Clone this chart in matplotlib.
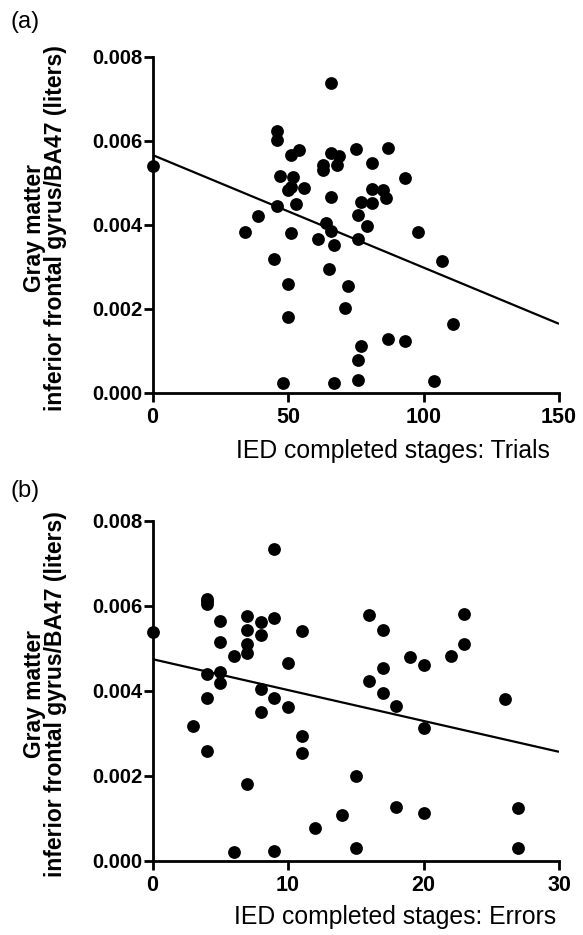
import matplotlib
matplotlib.use("Agg")
import matplotlib.pyplot as plt
import numpy as np

# ---------------- data ----------------
trials_a = [0, 46, 46, 51, 54, 47, 52, 50, 51, 56, 46, 53, 63, 63, 66, 69, 66, 75, 87, 68,
            81, 93, 66, 81, 85, 86, 77, 81, 39, 34, 51, 64, 66, 61, 45, 65, 50, 50, 48, 76,
            79, 67, 76, 98, 107, 72, 71, 111, 87, 93, 77, 76, 67, 76, 104]
gm_a = [0.00540, 0.00622, 0.00602, 0.00566, 0.00578, 0.00516, 0.00513, 0.00483, 0.00490, 0.00487,
        0.00445, 0.00449, 0.00542, 0.00530, 0.00571, 0.00564, 0.00737, 0.00580, 0.00582, 0.00542,
        0.00546, 0.00510, 0.00467, 0.00484, 0.00483, 0.00463, 0.00453, 0.00451, 0.00421, 0.00383,
        0.00381, 0.00405, 0.00386, 0.00366, 0.00318, 0.00294, 0.00259, 0.00181, 0.00022, 0.00423,
        0.00397, 0.00352, 0.00365, 0.00382, 0.00314, 0.00255, 0.00201, 0.00164, 0.00127, 0.00124,
        0.00112, 0.00078, 0.00024, 0.00030, 0.00029]

errors_b = [0, 4, 4, 4, 5, 5, 6, 7, 7, 7, 7, 8, 8, 9, 9, 11, 10, 5, 16, 17, 23, 23, 22, 19, 20, 17,
            4, 5, 4, 8, 9, 8, 10, 3, 4, 11, 11, 7, 12, 6, 9, 16, 17, 18, 26, 20, 15, 18, 20, 27,
            14, 15, 27]
gm_b = [0.00539, 0.00616, 0.00610, 0.00603, 0.00565, 0.00515, 0.00482, 0.00576, 0.00543, 0.00510,
        0.00488, 0.00562, 0.00531, 0.00733, 0.00570, 0.00541, 0.00464, 0.00444, 0.00578, 0.00543,
        0.00580, 0.00509, 0.00482, 0.00480, 0.00460, 0.00453, 0.00439, 0.00417, 0.00382, 0.00403,
        0.00382, 0.00349, 0.00362, 0.00317, 0.00258, 0.00293, 0.00254, 0.00180, 0.00076, 0.00019,
        0.00023, 0.00423, 0.00395, 0.00364, 0.00380, 0.00311, 0.00199, 0.00127, 0.00113, 0.00123,
        0.00107, 0.00029, 0.00029]

# regression lines (intercept, slope)
fit_a = (0.00566, -0.0000268)
fit_b = (0.00474, -0.0000727)

xticks_a = [0, 50, 100, 150]
xticks_b = [0, 10, 20, 30]
yticks = [0.000, 0.002, 0.004, 0.006, 0.008]
ytick_labels = ["0.000", "0.002", "0.004", "0.006", "0.008"]

xlabel_a = "IED completed stages: Trials"
xlabel_b = "IED completed stages: Errors"
ylabel = "Gray matter\ninferior frontal gyrus/BA47 (liters)"

# ---------------- figure ----------------
W, H = 583, 935
fig = plt.figure(figsize=(W / 100, H / 100), dpi=100)
plt.rcParams['font.family'] = ['Liberation Sans', 'DejaVu Sans']

def px_axes(left, right, top, bottom):
    return fig.add_axes([left / W, 1 - bottom / H, (right - left) / W, (bottom - top) / H])

def style(ax, xmax, xticks):
    ax.set_xlim(0, xmax)
    ax.set_ylim(0, 0.008)
    ax.set_xticks(xticks)
    ax.set_xticklabels([str(t) for t in xticks], fontsize=15.5, fontweight='bold')
    ax.set_yticks(yticks)
    ax.set_yticklabels(ytick_labels, fontsize=14.5, fontweight='bold')
    for s in ['top', 'right']:
        ax.spines[s].set_visible(False)
    for s in ['left', 'bottom']:
        ax.spines[s].set_linewidth(2.0)
    ax.tick_params(axis='both', direction='out', length=6.5, width=2.0)
    ax.tick_params(axis='x', pad=4)
    ax.tick_params(axis='y', pad=0.5)
    ax.patch.set_visible(False)

def draw(ax, x, y, fit, xmax):
    ax.scatter(x, y, s=85, color='black', marker='o', linewidths=0, clip_on=False, zorder=3)
    xs = np.array([0, xmax])
    ax.plot(xs, fit[0] + fit[1] * xs, color='black', lw=1.6, solid_capstyle='butt', zorder=2)

ax_a = px_axes(152.5, 559, 56.7, 392.7)
style(ax_a, 150, xticks_a)
draw(ax_a, trials_a, gm_a, fit_a, 150)

ax_b = px_axes(152.5, 559, 520.7, 860.5)
style(ax_b, 30, xticks_b)
draw(ax_b, errors_b, gm_b, fit_b, 30)

# labels
fig.text(45 / W, 1 - 228 / H, ylabel, rotation=90, ha='center', va='center',
         fontsize=16.5, fontweight='bold', multialignment='center', linespacing=0.85)
fig.text(45 / W, 1 - 694 / H, ylabel, rotation=90, ha='center', va='center',
         fontsize=16.5, fontweight='bold', multialignment='center', linespacing=0.85)
fig.text(393 / W, 1 - 451 / H, xlabel_a, ha='center', va='center', fontsize=17.8)
fig.text(395 / W, 1 - 917 / H, xlabel_b, ha='center', va='center', fontsize=17.8)
fig.text(11 / W, 1 - 22 / H, "(a)", ha='left', va='center', fontsize=17)
fig.text(11 / W, 1 - 491 / H, "(b)", ha='left', va='center', fontsize=17)

fig.savefig("out.png", dpi=100)
